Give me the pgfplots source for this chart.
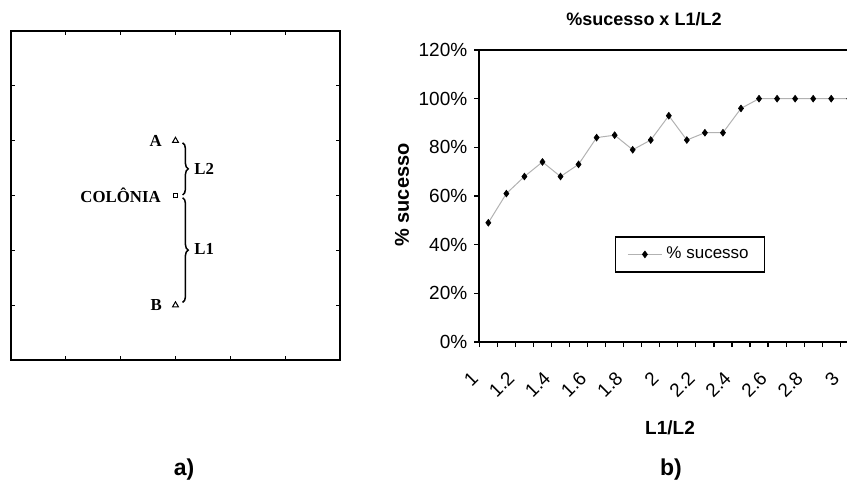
\documentclass[border=0pt]{standalone}
\usepackage{fontspec}
\setmainfont{Liberation Sans}
\newfontfamily\serifp{Liberation Serif}
\usepackage{pgfplots}
\pgfplotsset{compat=1.18}
\usetikzlibrary{decorations.pathreplacing}

\pgfplotstableread{
x y
1.0 49
1.1 61
1.2 68
1.3 74
1.4 68
1.5 73
1.6 84
1.7 85
1.8 79
1.9 83
2.0 93
2.1 83
2.2 86
2.3 86
2.4 96
2.5 100
2.6 100
2.7 100
2.8 100
2.9 100
3.0 100
}\sucesso

\begin{document}
\begin{tikzpicture}[x=1pt,y=1pt]
\useasboundingbox (0,0) rectangle (423.5,244.5);
% ---------------- panel a ----------------
\begin{axis}[at={(5.5pt,64.5pt)}, anchor=south west, scale only axis,
  width=164.5pt, height=164.5pt,
  xmin=0, xmax=6, ymin=0, ymax=6,
  xtick={1,...,5}, ytick={1,...,5},
  xticklabels={}, yticklabels={},
  tick align=inside, major tick length=1.8pt,
  axis line style={line width=0.9pt},
  tick style={line width=0.6pt, black},
  clip=false,
  font=\serifp\bfseries\fontsize{8.4}{10}\selectfont]
\addplot[only marks, mark=triangle, mark size=1.7pt, mark options={line width=0.5pt, black}] coordinates {(3,4) (3,1)};
\addplot[only marks, mark=square, mark size=1.1pt, mark options={line width=0.5pt, black}] coordinates {(3,3)};
\draw[decorate, decoration={brace, amplitude=2.8pt}, line width=0.75pt] (axis cs:3.13,3.96) -- (axis cs:3.13,3.01);
\draw[decorate, decoration={brace, amplitude=2.8pt}, line width=0.75pt] (axis cs:3.13,2.96) -- (axis cs:3.13,1.05);
\node[anchor=west, inner sep=1pt] at (axis cs:3.3,3.48) {L2};
\node[anchor=west, inner sep=1pt] at (axis cs:3.3,2.02) {L1};
\node[anchor=east] at (axis cs:2.88,4.0) {A};
\node[anchor=east] at (axis cs:2.88,1.0) {B};
\node[anchor=east] at (axis cs:2.86,3.0) {COLÔNIA};
\end{axis}
% ---------------- panel b ----------------
\begin{axis}[at={(239.65pt,73.5pt)}, anchor=south west, scale only axis,
  width=189.5pt, height=146pt,
  xmin=0.95, xmax=3.05, ymin=0, ymax=120,
  xtick={0.95,1.05,...,3.06}, xticklabels={},
  extra x ticks={1,1.2,1.4,1.6,1.8,2,2.2,2.4,2.6,2.8,3},
  extra x tick labels={1,1.2,1.4,1.6,1.8,2,2.2,2.4,2.6,2.8,3},
  extra x tick style={major tick length=0pt,
     xticklabel style={xshift=-4.3pt, yshift=-14pt, rotate=45, anchor=east}},
  ytick={0,20,...,120},
  yticklabels={0\%,20\%,40\%,60\%,80\%,100\%,120\%},
  xtick pos=lower, ytick pos=left,
  tick align=outside, major tick length=2.5pt,
  tick style={line width=0.6pt, black},
  axis line style={line width=0.9pt},
  /pgf/number format/assume math mode=true,
  ticklabel style={font=\fontsize{9.5}{11}\selectfont},
  legend style={at={(axis description cs:0.556,0.30)}, anchor=center,
    draw=black, line width=0.7pt, font=\fontsize{8.5}{10}\selectfont,
    inner xsep=6pt, inner ysep=3pt},
  legend cell align=left]
\addplot[color=gray!60, line width=0.5pt, mark=diamond*, mark size=1.7pt,
  mark options={black, fill=black, line width=0.3pt}] table[x=x,y=y] {\sucesso};
\addlegendentry{\% sucesso}
\end{axis}
\node[font=\bfseries\fontsize{9}{10}\selectfont] at (322,235) {\%sucesso x L1/L2};
\node[rotate=90, font=\bfseries\fontsize{10}{12}\selectfont] at (201,147) {\% sucesso};
\node[font=\bfseries\fontsize{9.5}{11}\selectfont] at (335,30.5) {L1/L2};
\node[font=\bfseries\fontsize{11.5}{13}\selectfont] at (92,9.5) {a)};
\node[font=\bfseries\fontsize{11.5}{13}\selectfont] at (335.5,9.5) {b)};
\end{tikzpicture}
\end{document}
